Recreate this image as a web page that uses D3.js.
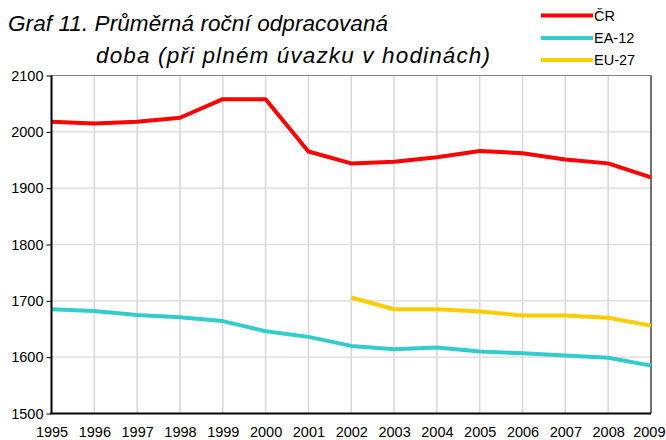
<!DOCTYPE html>
<html><head><meta charset="utf-8">
<script src="https://cdn.jsdelivr.net/npm/d3@7/dist/d3.min.js"></script>
<style>body{margin:0;background:#fff}svg{display:block}text{font-family:"Liberation Sans",Arial,sans-serif}</style>
</head><body>
<svg id="c" width="666" height="440"></svg>
<script>
const years = [1995,1996,1997,1998,1999,2000,2001,2002,2003,2004,2005,2006,2007,2008,2009];
const cr   = [2018,2015,2018,2025,2058,2058,1965,1944,1947,1955,1966,1962,1951,1944,1919];
const ea12 = [1685,1682,1675,1671,1664,1646,1636,1620,1614,1617,1610,1607,1603,1599,1585];
const eu27 = [null,null,null,null,null,null,null,1706,1685,1685,1681,1674,1674,1670,1656];
const yTicks = [1500,1600,1700,1800,1900,2000,2100];
const seriesNames = ["ČR","EA-12","EU-27"];
const seriesColors = ["#ff0000","#33cccc","#ffcc00"];
const titleLines = ["Graf 11. Průměrná roční odpracovaná","doba (při plném úvazku v hodinách)"];

const svg = d3.select("#c");
const L=51.5, R=651, T=75.5, B=413.5;
const x = d3.scalePoint().domain(years).range([L,R]);
const y = d3.scaleLinear().domain([1500,2100]).range([B,T]);

// gridlines
svg.append("g").selectAll("line.h").data(yTicks).join("line")
  .attr("x1",L).attr("x2",R).attr("y1",d=>y(d)).attr("y2",d=>y(d))
  .attr("stroke","#d9d9d9").attr("stroke-width",1.2);
svg.append("g").selectAll("line.v").data(years.slice(1,-1)).join("line")
  .attr("x1",d=>x(d)).attr("x2",d=>x(d)).attr("y1",T).attr("y2",B)
  .attr("stroke","#d9d9d9").attr("stroke-width",1.6);

// frame
svg.append("line").attr("x1",L).attr("x2",R).attr("y1",T).attr("y2",T).attr("stroke","#808080").attr("stroke-width",1);
svg.append("line").attr("x1",R).attr("x2",R).attr("y1",T).attr("y2",B).attr("stroke","#404040").attr("stroke-width",1.5);

// series
const data = [cr,ea12,eu27];
const line = d3.line().defined(d=>d.v!=null).x(d=>x(d.yr)).y(d=>y(d.v));
data.forEach((s,i)=>{
  svg.append("path").datum(years.map((yr,j)=>({yr,v:s[j]})))
    .attr("d",line).attr("fill","none").attr("stroke",seriesColors[i])
    .attr("stroke-width",4).attr("stroke-linejoin","round");
});

// axes
const yAxis = d3.axisLeft(y).tickValues(yTicks).tickSize(5).tickPadding(3).tickFormat(d3.format("d"));
const gy = svg.append("g").attr("transform",`translate(${L},0)`).call(yAxis);
gy.select(".domain").attr("stroke","#000").attr("stroke-width",2).attr("d",`M0,${T}V${B}`);
gy.selectAll(".tick line").attr("stroke","#000");
gy.selectAll("text").attr("font-size",14.5).attr("fill","#000").attr("font-family","Liberation Sans, Arial, sans-serif");

const xAxis = d3.axisBottom(x).tickSize(0).tickPadding(13).tickFormat(d3.format("d"));
const gx = svg.append("g").attr("transform",`translate(0,${B})`).call(xAxis);
gx.select(".domain").attr("stroke","#000").attr("stroke-width",2).attr("d",`M${L-1},0H${R}`);
gx.selectAll("text").attr("font-size",14.5).attr("fill","#000").attr("font-family","Liberation Sans, Arial, sans-serif");
gx.selectAll(".tick").filter(d=>d===years[years.length-1]).select("text").attr("text-anchor","end").attr("dx",14);

// title
svg.append("text").attr("x",8).attr("y",31).attr("font-size",22.5).attr("font-style","italic")
  .attr("textLength",380).attr("lengthAdjust","spacing").text(titleLines[0]);
svg.append("text").attr("x",96).attr("y",63).attr("font-size",22.5).attr("font-style","italic")
  .attr("textLength",394).attr("lengthAdjust","spacing").text(titleLines[1]);

// legend
const legY = [15.5,38,60];
seriesNames.forEach((n,i)=>{
  svg.append("line").attr("x1",541).attr("x2",593).attr("y1",legY[i]).attr("y2",legY[i])
    .attr("stroke",seriesColors[i]).attr("stroke-width",4);
  svg.append("text").attr("x",594).attr("y",legY[i]+5).attr("font-size",14.5).text(n);
});
</script>
</body></html>
